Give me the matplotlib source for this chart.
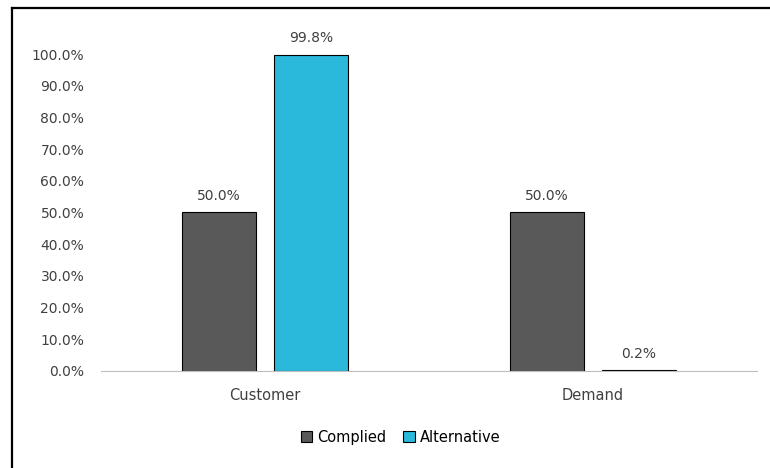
import matplotlib
matplotlib.use('Agg')
import matplotlib.pyplot as plt
from matplotlib.lines import Line2D
import numpy as np

categories = ['Customer', 'Demand']
complied = [50.0, 50.0]
alternative = [99.8, 0.2]
yticks = np.arange(0, 101, 10)

plt.rcParams['font.family'] = 'DejaVu Sans'
plt.rcParams['font.size'] = 10

fig = plt.figure(figsize=(7.7, 4.68), dpi=100)
ax = fig.add_axes([0.131, 0.2073, 0.852, 0.6773])

x = np.arange(len(categories))
w = 0.225
off = 0.14
b1 = ax.bar(x - off, complied, w, color='#595959', edgecolor='black', linewidth=0.8, label='Complied')
b2 = ax.bar(x + off, alternative, w, color='#2AB8DB', edgecolor='black', linewidth=0.8, label='Alternative')

for bars, vals in [(b1, complied), (b2, alternative)]:
    for b, v in zip(bars, vals):
        ax.annotate('%.1f%%' % v, (b.get_x() + b.get_width() / 2, v),
                    xytext=(0, 7), textcoords='offset points',
                    ha='center', va='bottom', color='#404040', fontsize=10)

ax.set_xlim(-0.5, 1.5)
ax.set_ylim(0, 100)
ax.set_yticks(yticks)
ax.set_yticklabels(['%.1f%%' % t for t in yticks], color='#404040', fontsize=10)
ax.set_xticks(x)
ax.set_xticklabels(categories, color='#404040', fontsize=10.5)
ax.tick_params(axis='both', length=0)
ax.tick_params(axis='x', pad=12)
ax.tick_params(axis='y', pad=12)

for s in ['top', 'right', 'left']:
    ax.spines[s].set_visible(False)
ax.spines['bottom'].set_color('#bfbfbf')

fig.legend(loc='center', bbox_to_anchor=(0.52, 0.066), ncol=2, frameon=False,
           handlelength=0.8, handleheight=0.8, handletextpad=0.3, columnspacing=1.2,
           fontsize=10.5)

# outer chart border on left and top
fig.add_artist(Line2D([12 / 770, 12 / 770], [0, 1 - 8 / 468], transform=fig.transFigure,
                      color='black', linewidth=1.6))
fig.add_artist(Line2D([12 / 770, 1], [1 - 8 / 468, 1 - 8 / 468], transform=fig.transFigure,
                      color='black', linewidth=1.6))

fig.savefig('out.png', dpi=100)
